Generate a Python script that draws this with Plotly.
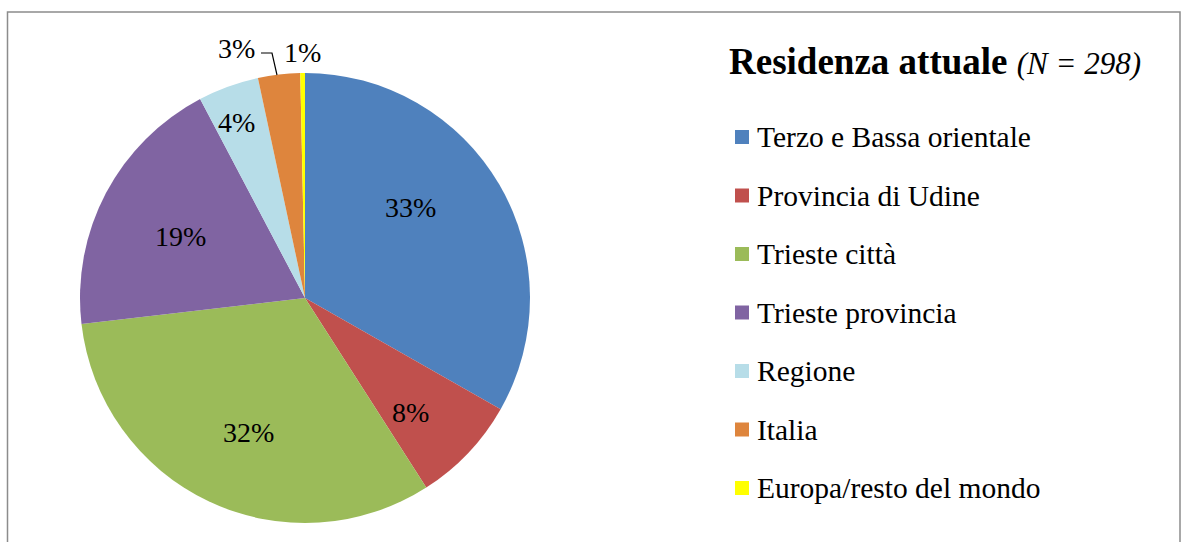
import plotly.graph_objects as go

# ---- data ----
categories = ["Terzo e Bassa orientale", "Provincia di Udine", "Trieste città",
              "Trieste provincia", "Regione", "Italia", "Europa/resto del mondo"]
counts = [99, 23, 96, 57, 13, 9, 1]
pct_labels = ["33%", "8%", "32%", "19%", "4%", "3%", "1%"]
colors = ["#4F81BD", "#C0504D", "#9BBB59", "#8064A2", "#B7DDE8", "#DE853D", "#FFFF00"]
title_main = "Residenza attuale"
title_n = "(N = 298)"

# ---- style / layout (pixel positions of the data labels) ----
label_px = [(410, 207), (410, 412), (248, 432), (180, 237), (236, 122), (236, 48), (302, 52)]

W, H = 1182, 542
FONT = "Liberation Serif, Times New Roman, serif"

def px(x):
    return x / W

def py(y):
    return 1 - y / H

fig = go.Figure()
fig.add_trace(go.Pie(
    labels=categories,
    values=counts,
    textinfo="none",
    marker=dict(colors=colors, line=dict(color="white", width=0)),
    sort=False,
    direction="clockwise",
    rotation=0,
    showlegend=False,
    hoverinfo="label+percent",
    domain=dict(x=[px(80), px(530)], y=[py(523), py(73)]),
))

annotations = []
shapes = []

# data labels
for lab, (lx, ly) in zip(pct_labels, label_px):
    annotations.append(dict(x=px(lx), y=py(ly), xref="paper", yref="paper", text=lab,
                            showarrow=False, font=dict(family=FONT, size=28, color="black"),
                            xanchor="center", yanchor="middle"))
# leader line for the "3%" label
shapes.append(dict(type="path", xref="paper", yref="paper",
                   path=f"M {px(261)} {py(53)} L {px(272)} {py(53)} L {px(277)} {py(75)}",
                   line=dict(color="black", width=1.2)))

# legend title
annotations.append(dict(x=px(727), y=py(61), xref="paper", yref="paper",
                        text=f"<b>{title_main}</b> <i><span style='font-size:31px'>{title_n}</span></i>",
                        showarrow=False, font=dict(family=FONT, size=37, color="black"),
                        xanchor="left", yanchor="middle"))

# manual legend
for i, (cat, col) in enumerate(zip(categories, colors)):
    yc = 137 + 58.5 * i
    shapes.append(dict(type="rect", xref="paper", yref="paper",
                       x0=px(735), x1=px(749), y0=py(yc + 7), y1=py(yc - 7),
                       fillcolor=col, line=dict(width=0)))
    annotations.append(dict(x=px(755), y=py(yc), xref="paper", yref="paper", text=cat,
                            showarrow=False, font=dict(family=FONT, size=29.5, color="black"),
                            xanchor="left", yanchor="middle"))

# outer border
shapes.append(dict(type="rect", xref="paper", yref="paper",
                   x0=px(7.5), x1=px(1180), y0=-0.1, y1=py(12),
                   line=dict(color="#8C8C8C", width=1.5), fillcolor="rgba(0,0,0,0)"))

fig.update_layout(
    width=W, height=H,
    margin=dict(l=0, r=0, t=0, b=0),
    paper_bgcolor="white",
    plot_bgcolor="white",
    annotations=annotations,
    shapes=shapes,
    font=dict(family=FONT),
)

fig.write_html(
    "out.html",
    config={"displayModeBar": False},
    post_script=("document.body.style.margin='0';"
                 "document.body.style.overflow='hidden';"
                 "document.documentElement.style.overflow='hidden';"),
)
